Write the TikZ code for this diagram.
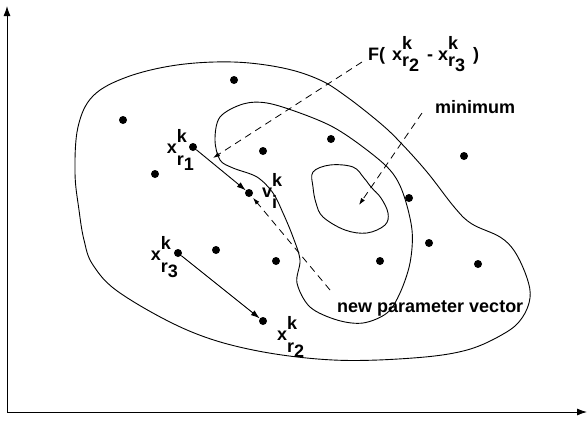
\documentclass[tikz,border=0pt]{standalone}
\usepackage{fontspec}
\setmainfont{Liberation Sans}
\usepackage{tikz}
\usetikzlibrary{arrows.meta, positioning, calc}
\newcommand{\xlab}[4][12pt]{#2\rlap{\raisebox{11pt}{k}}\raisebox{-#1}{#3\raisebox{-5pt}{#4}}}
\tikzset{
  pt/.style={circle, fill=black, inner sep=0pt, minimum size=8pt},
  lab/.style={inner sep=0pt, font=\fontsize{18}{20}\selectfont\bfseries},
  curve/.style={line width=0.9pt},
  arr/.style={-{Latex[length=9pt,width=6pt]}, line width=0.9pt},
  darr/.style={-{Latex[length=7pt,width=4.5pt]}, line width=0.8pt, dash pattern=on 7pt off 5pt},
  axis/.style={-{Latex[length=10pt,width=7pt]}, line width=0.9pt}
}
\begin{document}
\begin{tikzpicture}[x=1pt, y=-1pt]
  \useasboundingbox (0,0) rectangle (587,421);

  % axes
  \coordinate (orig) at (7,412);
  \coordinate (ytop) at (7,6);
  \coordinate (xend) at (587,412);
  \draw[axis] (orig) -- (ytop);
  \draw[axis] (orig) -- (xend);

  % contours
  \draw[curve] plot[smooth cycle, tension=0.6] coordinates {
    (233,62) (283,68) (320,80) (347,97) (380,123) (400,142) (427,172)
    (455,208) (472,224) (500,237) (515,252) (527,278) (530,298) (522,318)
    (505,333) (467,350) (413,358) (333,360) (253,350) (187,330) (120,293)
    (93,265) (84,240) (79,210) (75,173) (78,127) (93,96) (127,77) (177,65)};
  \draw[curve] plot[smooth cycle, tension=0.55] coordinates {
    (267,103) (300,113) (333,127) (363,147) (390,170) (403,193) (412,230)
    (410,263) (400,293) (387,313) (363,323) (337,320) (310,307) (297,283)
    (300,260) (293,237) (283,213) (273,193) (257,177) (233,168) (220,160)
    (215,140) (220,117) (243,104)};
  \draw[curve] plot[smooth cycle, tension=0.6] coordinates {
    (313,172) (330,165) (353,167) (364,178) (371,187) (381,198) (388,213)
    (385,225) (367,233) (345,230) (323,217) (316,203) (313,187)};

  % population
  \node[pt] (p1)  at (234,80)  {};
  \node[pt] (p2)  at (123,120) {};
  \node[pt] (r1)  at (193,147) {};
  \node[pt] (p3)  at (263,151) {};
  \node[pt] (p4)  at (331,139) {};
  \node[pt] (p5)  at (464,156) {};
  \node[pt] (p6)  at (155,174) {};
  \node[pt] (vi)  at (249,193) {};
  \node[pt] (p7)  at (409,198) {};
  \node[pt] (r3)  at (178,253) {};
  \node[pt] (p8)  at (216,250) {};
  \node[pt] (p9)  at (276,261) {};
  \node[pt] (p10) at (380,261) {};
  \node[pt] (p11) at (429,243) {};
  \node[pt] (p12) at (478,264) {};
  \node[pt] (r2)  at (263,321) {};

  % labels
  \node[lab, anchor=base east] (r1lab) at (194,153) {\xlab{x}{r}{1}};
  \node[lab, anchor=base west] (vilab) at (262,197) {v\rlap{\raisebox{11pt}{k}}\raisebox{-11pt}{i}};
  \node[lab, anchor=base east] (r3lab) at (178,260) {\xlab{x}{r}{3}};
  \node[lab, anchor=base west] (r2lab) at (277,340) {\xlab{x}{r}{2}};
  \node[lab, anchor=base west] (flab)  at (368,60)
    {F(\hspace{2pt} \xlab[6pt]{x}{r}{2}\hspace{3pt} - \xlab[6pt]{x}{r}{3}\hspace{3pt} )};
  \node[lab, anchor=base west] (mini)  at (435,113) {minimum};
  \node[lab, anchor=base west] (npv)   at (337,312) {new parameter vector};

  % differential step
  \draw[arr] (r1) -- (vi);
  \draw[arr] (r3) -- (r2);

  % pointers
  \coordinate (fstart) at (362,62);
  \coordinate (ftip)   at (213,158);
  \coordinate (mstart) at (422,113);
  \coordinate (mtip)   at (359,205);
  \coordinate (nstart) at (330,290);
  \draw[darr] (fstart) -- (ftip);
  \draw[darr] (mstart) -- (mtip);
  \draw[darr, shorten >=2pt] (nstart) -- (vi);
\end{tikzpicture}
\end{document}
